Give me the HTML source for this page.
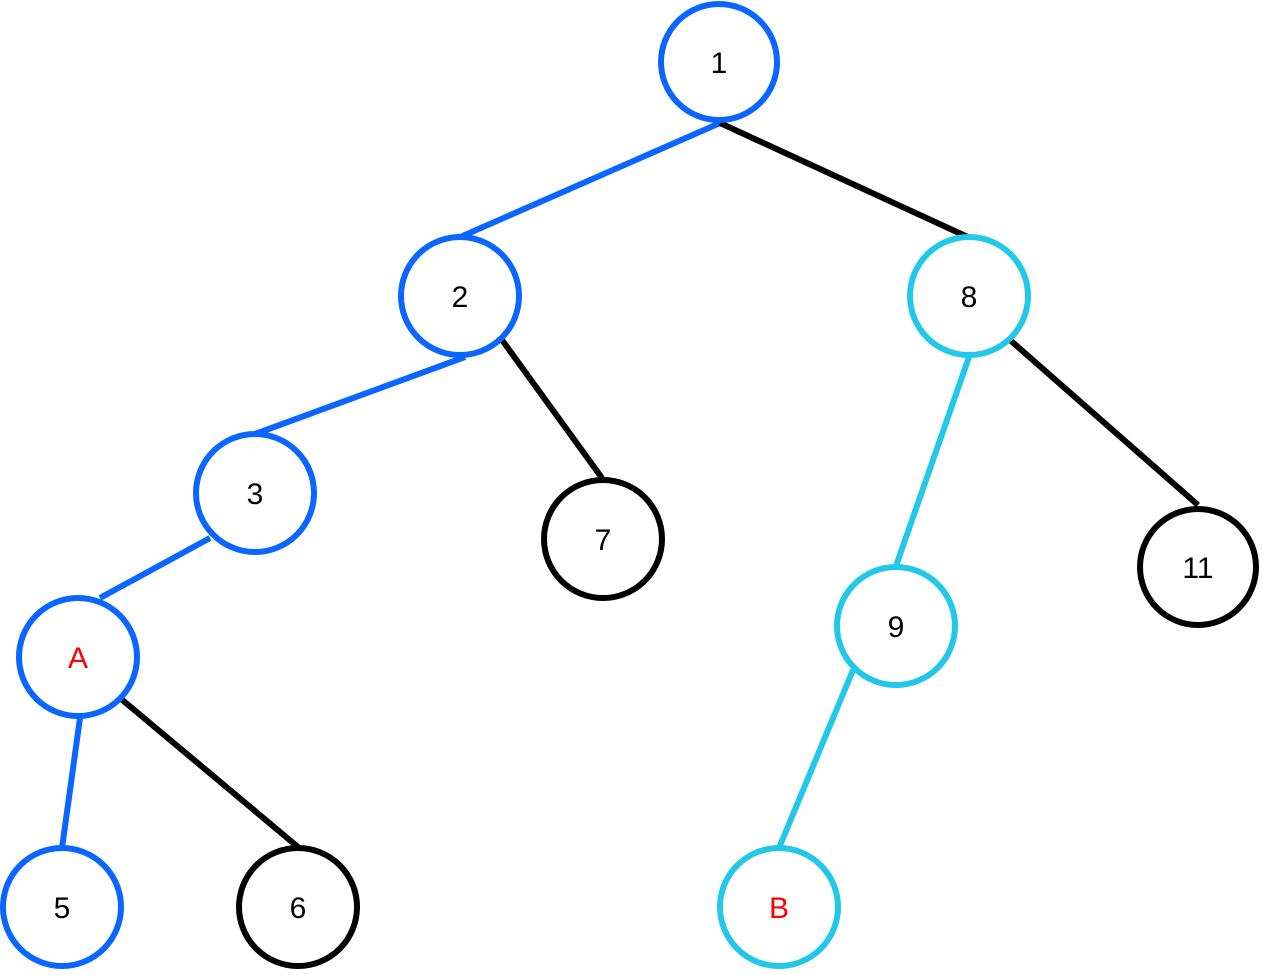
<!DOCTYPE html>
<html><head><style>html,body{margin:0;padding:0;background:#fff}</style></head>
<body>
<svg width="1263" height="970" viewBox="0 0 1263 970" xmlns="http://www.w3.org/2000/svg">
<g stroke-width="6" fill="none" stroke-linecap="butt">
<line x1="720" y1="123" x2="458" y2="238" stroke="#0a66ff"/>
<line x1="720" y1="123" x2="970" y2="238" stroke="#000"/>
<line x1="465" y1="357" x2="255" y2="434" stroke="#0a66ff"/>
<line x1="502" y1="340" x2="602" y2="478" stroke="#000"/>
<line x1="969" y1="357" x2="896" y2="566" stroke="#22c8e8"/>
<line x1="1010" y1="340" x2="1198" y2="505" stroke="#000"/>
<line x1="210" y1="538" x2="100" y2="598" stroke="#0a66ff"/>
<line x1="80" y1="718" x2="62" y2="848" stroke="#0a66ff"/>
<line x1="120" y1="698" x2="298" y2="847" stroke="#000"/>
<line x1="853" y1="670" x2="779" y2="848" stroke="#22c8e8"/>
<circle cx="719" cy="62" r="58" stroke="#0a66ff" fill="#fff"/>
<circle cx="460" cy="296" r="59" stroke="#0a66ff" fill="#fff"/>
<circle cx="969" cy="296" r="59" stroke="#22c8e8" fill="#fff"/>
<circle cx="255" cy="493" r="59" stroke="#0a66ff" fill="#fff"/>
<circle cx="603" cy="539" r="59" stroke="#000" fill="#fff"/>
<circle cx="78" cy="657" r="59" stroke="#0a66ff" fill="#fff"/>
<circle cx="896" cy="626" r="59" stroke="#22c8e8" fill="#fff"/>
<circle cx="1198" cy="567" r="58" stroke="#000" fill="#fff"/>
<circle cx="62" cy="907" r="59" stroke="#0a66ff" fill="#fff"/>
<circle cx="298" cy="907" r="59" stroke="#000" fill="#fff"/>
<circle cx="779" cy="907" r="59" stroke="#22c8e8" fill="#fff"/>
</g>
<g font-family="Liberation Sans, sans-serif" font-size="30" text-anchor="middle" fill="#000">
<text x="719" y="73">1</text>
<text x="460" y="307">2</text>
<text x="969" y="307">8</text>
<text x="255" y="504">3</text>
<text x="603" y="550">7</text>
<text x="78" y="668" fill="#f00">A</text>
<text x="896" y="637">9</text>
<text x="1198" y="578">11</text>
<text x="62" y="918">5</text>
<text x="298" y="918">6</text>
<text x="779" y="918" fill="#f00">B</text>
</g>
</svg>
</body></html>
